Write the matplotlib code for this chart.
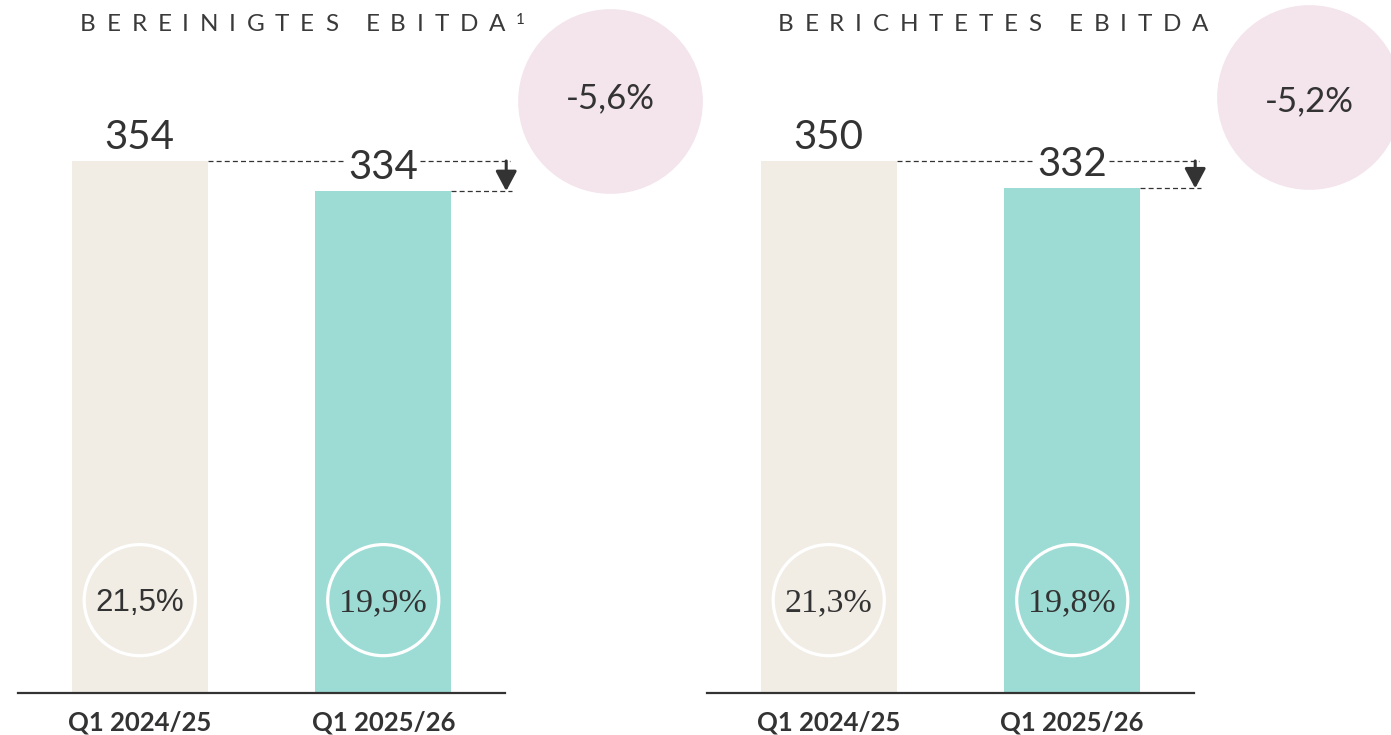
import numpy as np
import matplotlib.pyplot as plt

# data
periods = ["Q1 2024/25", "Q1 2025/26"]
titles = ["BEREINIGTES EBITDA", "BERICHTETES EBITDA"]
ebitda_adj = [354, 334]
ebitda_rep = [350, 332]
margin_adj = ["21,5%", "19,9%"]
margin_rep = ["21,3%", "19,8%"]
change = ["-5,6%", "-5,2%"]

W, H = 1391, 735
PT = 0.72  # points per pixel at dpi 100
TXT = "#333333"
bar_colors = ["#f1ede5", "#9ddcd4"]
pink = "#f4e5ed"

fig = plt.figure(figsize=(W / 100, H / 100), dpi=100)


def spaced_text(x0, x1, ybase, s, **kw):
    # letter-spaced caps, stretched between x0 and x1 (pixels)
    r = fig.canvas.get_renderer()
    widths = []
    for ch in s:
        if ch == " ":
            widths.append(0)
            continue
        t = fig.text(0, 0, ch, **kw)
        widths.append(t.get_window_extent(r).width)
        t.remove()
    space = 6
    gap = (x1 - x0 - sum(widths) - space) / (len(s) - 1)
    x = x0
    for ch, w in zip(s, widths):
        if ch != " ":
            fig.text(x / W, 1 - ybase / H, ch, ha="left", va="baseline", **kw)
            x += w + gap
        else:
            x += space + gap


def panel(left, vals, margins, fams, title, tx0, tx1, chg, pink_xy):
    ax = fig.add_axes([left / W, 42 / H, 487 / W, 693 / H])
    ax.set_facecolor("none")
    ax.set_xlim(-0.5, 1.5)
    ax.set_ylim(0, vals[0] * 693 / 532)
    x = np.arange(len(vals))
    ax.bar(x, vals, width=0.56, color=bar_colors, zorder=1)
    for s in ["top", "left", "right"]:
        ax.spines[s].set_visible(False)
    ax.spines["bottom"].set_color(TXT)
    ax.spines["bottom"].set_linewidth(1.6)
    ax.set_yticks([])
    ax.set_xticks([])

    for i, v in enumerate(vals):
        ax.annotate(str(v), xy=(i, v), xytext=(0, 12 * PT), textcoords="offset points",
                    ha="center", va="baseline", fontsize=29, family="Lato", color=TXT)
        ax.annotate(periods[i], xy=(i, 0), xytext=(0, -38 * PT), textcoords="offset points",
                    ha="center", va="baseline", fontsize=18.5, family="Lato",
                    fontweight="bold", color=TXT)

    # margin circles
    ax.scatter(x, [0.134] * len(x), s=80 ** 2, facecolor="none", edgecolor="white",
               linewidth=2.3, transform=ax.get_xaxis_transform(), zorder=3)
    for i, m in enumerate(margins):
        size = 22.5 if fams[i] == "Liberation Sans" else 24.5
        ax.text(i, 0.118, m, transform=ax.get_xaxis_transform(), ha="center",
                va="baseline", fontsize=size, family=[fams[i]], color=TXT, zorder=4)

    # dashed guides and arrow
    dash = dict(color=TXT, lw=0.9, linestyle=(0, (4, 2.5)), clip_on=False)
    ax.plot([0.28, 0.835], [vals[0]] * 2, **dash)
    ax.plot([1.15, 1.52], [vals[0]] * 2, **dash)
    ax.plot([1.28, 1.53], [vals[1]] * 2, **dash)
    ax.annotate("", xy=(1.505, vals[1]), xytext=(1.505, vals[0]),
                arrowprops=dict(arrowstyle="-|>,head_length=0.6,head_width=0.32",
                                mutation_scale=20, lw=2.2, color=TXT,
                                shrinkA=0, shrinkB=0), annotation_clip=False)

    # change bubble
    px, py, pb = pink_xy
    ax.scatter([(px - left - 122) / 243.5], [(693 - py) / 693], s=132 ** 2, color=pink,
               transform=ax.get_xaxis_transform(), clip_on=False, zorder=0)
    fig.text(px / W, 1 - pb / H, chg, ha="center", va="baseline", fontsize=25,
             family="Lato", color=TXT)

    spaced_text(tx0, tx1, 31, title, fontsize=17.5, family="Lato", color="#3a3a3a")


panel(18, ebitda_adj, margin_adj, ["Liberation Sans", "Liberation Serif"], titles[0],
      80, 505, change[0], (610, 101, 108))
panel(707, ebitda_rep, margin_rep, ["Liberation Serif", "Liberation Serif"], titles[1],
      778, 1208, change[1], (1309, 97, 111))
fig.text(516 / W, 1 - 24 / H, "1", ha="left", va="baseline", fontsize=11,
         family="Lato", color=TXT)

fig.savefig("out.png", dpi=100)
